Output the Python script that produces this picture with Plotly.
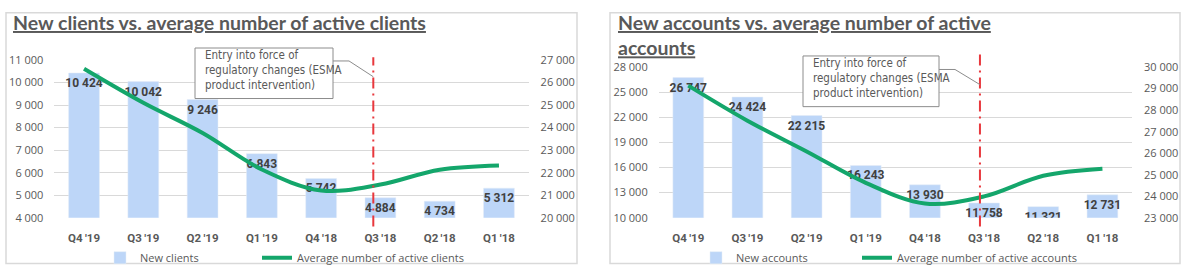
import plotly.graph_objects as go

W, H = 1187, 277

# ---------------- data ----------------
quarters = ["Q4\u2009'19", "Q3\u2009'19", "Q2\u2009'19", "Q1\u2009'19",
            "Q4\u2009'18", "Q3\u2009'18", "Q2\u2009'18", "Q1\u2009'18"]
new_clients = [10424, 10042, 9246, 6843, 5742, 4884, 4734, 5312]
avg_active_clients = [26610, 25100, 23760, 22140, 21210, 21470, 22130, 22320]
new_accounts = [26747, 24424, 22215, 16243, 13930, 11758, 11321, 12731]
avg_active_accounts = [29140, 27510, 26080, 24620, 23660, 23990, 24950, 25280]

left_title = "New clients vs. average number of active clients"
right_title = "New accounts vs. average number of active<br>accounts"
note_text = "Entry into force of<br>regulatory changes (ESMA<br>product intervention)"
bar_names = ["New clients", "New accounts"]
line_names = ["Average number of active clients", "Average number of active accounts"]

# ---------------- style ----------------
BAR = "#BDD6F8"
GREEN = "#14A66B"
GREY = "#595959"
GRID = "#D9D9D9"
RED = "#E8383D"
NUM_FONT = "Open Sans"
BOLD_FONT = "Roboto"
NARROW = "Liberation Sans Narrow, DejaVu Sans Condensed, Roboto Condensed, Roboto"


def px(x):
    return x / W


def py(y):
    return 1 - y / H


fig = go.Figure()

label_font = dict(family=BOLD_FONT, size=12, color="#404040", weight="bold")

# left chart
fig.add_trace(go.Bar(
    x=quarters, y=new_clients, name=bar_names[0], marker_color=BAR,
    xaxis="x", yaxis="y", legend="legend",
    texttemplate="%{y:,d}", textposition="inside", insidetextanchor="end",
    textangle=0, constraintext="none", textfont=label_font, hoverinfo="skip"))
fig.add_trace(go.Scatter(
    x=quarters, y=avg_active_clients, name=line_names[0], mode="lines",
    line=dict(color=GREEN, width=4, shape="spline", smoothing=1.0),
    xaxis="x", yaxis="y2", legend="legend2", hoverinfo="skip"))

# right chart
fig.add_trace(go.Bar(
    x=quarters, y=new_accounts, name=bar_names[1], marker_color=BAR,
    xaxis="x2", yaxis="y3", legend="legend3",
    texttemplate="%{y:,d}", textposition="inside", insidetextanchor="end",
    textangle=0, constraintext="none", textfont=label_font, hoverinfo="skip"))
fig.add_trace(go.Scatter(
    x=quarters, y=avg_active_accounts, name=line_names[1], mode="lines",
    line=dict(color=GREEN, width=4, shape="spline", smoothing=1.0),
    xaxis="x2", yaxis="y4", legend="legend4", hoverinfo="skip"))

tick_num = dict(family=NUM_FONT, size=11, color=GREY)
tick_cat = dict(family=BOLD_FONT, size=11.5, color=GREY, weight="bold")

L_DOM = [px(54.4), px(528.6)]
R_DOM = [px(658.7), px(1132)]
L_Y = [py(221.7), py(55)]
R_Y = [py(221.7), py(62.5)]


def leg(xpix):
    return dict(orientation="h", x=px(xpix), xanchor="left", y=py(264),
                yanchor="middle", font=dict(family=NUM_FONT, size=11, color=GREY),
                bgcolor="rgba(0,0,0,0)", itemclick=False, itemdoubleclick=False)


fig.update_layout(
    width=W, height=H, margin=dict(l=0, r=0, t=0, b=0),
    paper_bgcolor="white", plot_bgcolor="white", showlegend=True,
    separators=", ", bargap=0.48,
    xaxis=dict(domain=L_DOM, anchor="y", type="category", showgrid=False,
               showline=False, zeroline=False, ticks="", tickfont=tick_cat,
               ticklabelstandoff=12),
    yaxis=dict(domain=L_Y, anchor="x", range=[4000, 11000], dtick=1000, tick0=4000,
               tickformat=",d", gridcolor=GRID, gridwidth=1, zeroline=False,
               showline=False, ticks="", tickfont=tick_num, ticklabelstandoff=10),
    yaxis2=dict(overlaying="y", side="right", anchor="x", range=[20000, 27000],
                dtick=1000, tick0=20000, tickformat=",d", showgrid=False, zeroline=False,
                showline=False, ticks="", tickfont=tick_num, ticklabelstandoff=11),
    xaxis2=dict(domain=R_DOM, anchor="y3", type="category", showgrid=False,
                showline=False, zeroline=False, ticks="", tickfont=tick_cat,
                ticklabelstandoff=12),
    yaxis3=dict(domain=R_Y, anchor="x2", range=[10000, 28000], dtick=3000, tick0=10000,
                tickformat=",d", gridcolor=GRID, gridwidth=1, zeroline=False,
                showline=False, ticks="", tickfont=tick_num, ticklabelstandoff=10),
    yaxis4=dict(overlaying="y3", side="right", anchor="x2", range=[23000, 30000],
                dtick=1000, tick0=23000, tickformat=",d", showgrid=False, zeroline=False,
                showline=False, ticks="", tickfont=tick_num, ticklabelstandoff=11),
    legend=leg(100),
    legend2=leg(257),
    legend3=leg(696),
    legend4=leg(857),
)

shapes = []
annotations = []

# chart frames
for x0, x1 in [(6, 577), (610, 1180)]:
    shapes.append(dict(type="rect", xref="paper", yref="paper",
                       x0=px(x0), x1=px(x1), y0=py(270), y1=py(5),
                       line=dict(color=GRID, width=1.5), fillcolor="rgba(0,0,0,0)",
                       layer="below"))

# titles
title_font = dict(family="Lato", size=19.5, color=GREY, weight="bold")
annotations.append(dict(xref="paper", yref="paper", x=px(11), y=py(1),
                        xanchor="left", yanchor="top", showarrow=False, align="left",
                        text="<u>" + left_title + "</u>", font=title_font))
annotations.append(dict(xref="paper", yref="paper", x=px(616), y=py(1),
                        xanchor="left", yanchor="top", showarrow=False, align="left",
                        text="<u>" + right_title.replace("<br>", "</u><br><u>") + "</u>",
                        font=title_font))

# regulatory change marker: (x-axis, category position, top px, box, connector)
markers = [
    ("x", 4.88, 52, (195, 42.3, 333, 95.7), 56, 349, 72.7),
    ("x2", 4.93, 46.7, (803, 50.7, 939, 104.3), 65, 955, 81),
]
for xr, pos, top, box, cy, kx, ky in markers:
    shapes.append(dict(type="line", xref=xr, yref="paper", x0=pos, x1=pos,
                       y0=py(231), y1=py(top),
                       line=dict(color=RED, width=2, dash="11px,5px,2px,5px")))
    bx0, by0, bx1, by1 = box
    shapes.append(dict(type="rect", xref="paper", yref="paper",
                       x0=px(bx0), x1=px(bx1), y0=py(by1), y1=py(by0),
                       line=dict(color="#8C8C8C", width=1), fillcolor="white"))
    dom = L_DOM if xr == "x" else R_DOM
    lx = dom[0] + (pos + 0.5) / len(quarters) * (dom[1] - dom[0])
    shapes.append(dict(type="path", xref="paper", yref="paper",
                       path="M {} {} L {} {} L {} {}".format(
                           px(bx1), py(cy), px(kx), py(cy), lx, py(ky)),
                       line=dict(color="#8C8C8C", width=1)))
    annotations.append(dict(xref="paper", yref="paper", x=px(bx0 + 8), y=py(by0 - 2.5),
                            xanchor="left", yanchor="top", showarrow=False,
                            align="left", text=note_text,
                            font=dict(family=NARROW, size=11.5, color=GREY)))

fig.update_layout(shapes=shapes, annotations=annotations)

fig.write_html("out.html")
